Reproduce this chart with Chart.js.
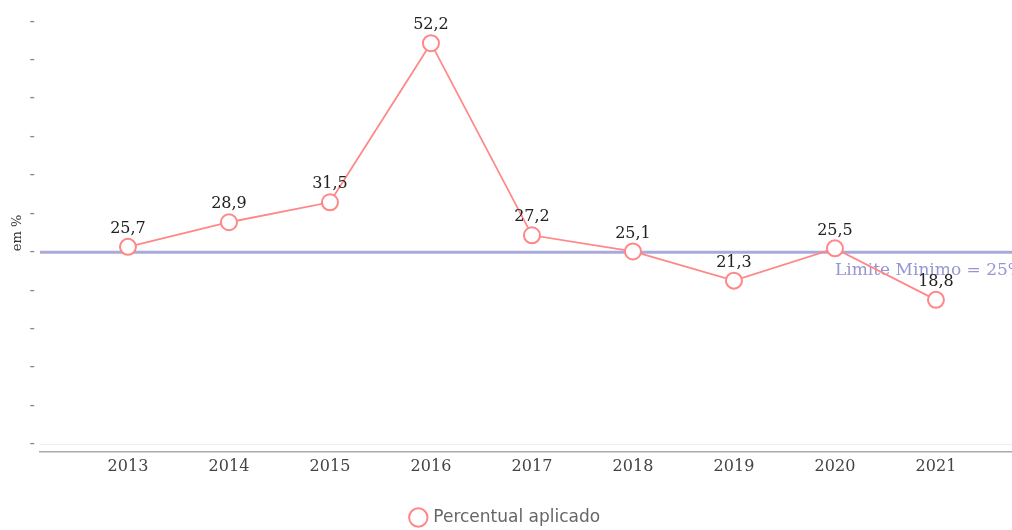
<!DOCTYPE html>
<html>
<head>
<meta charset="utf-8">
<script src="https://cdn.jsdelivr.net/npm/chart.js@4"></script>
<style>
  body { margin: 0; background: #fff; }
</style>
</head>
<body>
<canvas id="grafico" width="1012" height="530"></canvas>
<script>
// Dados
const anos = [2013, 2014, 2015, 2016, 2017, 2018, 2019, 2020, 2021];
const percentual = [25.7, 28.9, 31.5, 52.2, 27.2, 25.1, 21.3, 25.5, 18.8];
const ticksY = [0, 5, 10, 15, 20, 25, 30, 35, 40, 45, 50, 55];
const limiteMinimo = 25;
const textoLimite = "Limite Minimo = 25%";

// Rótulos dos pontos + linha do limite mínimo
const extras = {
  id: "extras",
  beforeDatasetsDraw(chart) {
    const { ctx, chartArea, scales } = chart;
    const y = scales.y.getPixelForValue(limiteMinimo);
    ctx.save();
    ctx.strokeStyle = "rgba(160,160,215,0.9)";
    ctx.lineWidth = 3;
    ctx.beginPath();
    ctx.moveTo(chartArea.left, y);
    ctx.lineTo(chartArea.right, y);
    ctx.stroke();
    ctx.fillStyle = "rgb(150,150,210)";
    ctx.font = "17px 'DejaVu Serif'";
    ctx.textAlign = "left";
    ctx.textBaseline = "middle";
    ctx.fillText(textoLimite, chartArea.right - 177, y + 18);
    ctx.restore();
  },
  afterDatasetsDraw(chart) {
    const { ctx } = chart;
    const meta = chart.getDatasetMeta(0);
    ctx.save();
    ctx.fillStyle = "#222";
    ctx.font = "16px 'DejaVu Serif'";
    ctx.textAlign = "center";
    ctx.textBaseline = "middle";
    meta.data.forEach((p, i) => {
      ctx.fillText(percentual[i].toFixed(1).replace(".", ","), p.x, p.y - 18);
    });
    ctx.restore();
  },
};

new Chart(document.getElementById("grafico"), {
  type: "line",
  data: {
    datasets: [
      {
        label: "Percentual aplicado",
        data: anos.map((a, i) => ({ x: a, y: percentual[i] })),
        borderColor: "rgb(255,135,135)",
        backgroundColor: "#fff",
        borderWidth: 1.8,
        pointRadius: 8,
        pointHoverRadius: 8,
        pointBorderWidth: 2,
        pointBackgroundColor: "#fff",
        pointBorderColor: "rgb(255,135,135)",
        tension: 0,
      },
    ],
  },
  options: {
    responsive: false,
    animation: false,
    layout: { autoPadding: false, padding: { top: 4, right: 0, bottom: -6, left: 0 } },
    plugins: {
      tooltip: { enabled: false },
      legend: {
        position: "bottom",
        labels: {
          usePointStyle: true,
          pointStyle: "circle",
          boxWidth: 13,
          boxHeight: 13,
          padding: 2,
          color: "#666",
          font: { family: "'DejaVu Sans'", size: 17 },
        },
      },
    },
    scales: {
      x: {
        type: "linear",
        min: 2012.129,
        max: 2021.753,
        afterBuildTicks: (s) => { s.ticks = anos.map((v) => ({ value: v })); },
        afterFit: (s) => { s.height = 55; },
        ticks: {
          color: "#444",
          font: { family: "'DejaVu Serif'", size: 16 },
          padding: 5,
          callback: (v) => String(v),
        },
        grid: { display: false, drawTicks: false },
        border: { color: "#aaa", width: 1.5 },
      },
      y: {
        min: -1,
        max: 56,
        afterBuildTicks: (s) => { s.ticks = ticksY.map((v) => ({ value: v })); },
        afterFit: (s) => { s.width = 40; },
        ticks: {
          color: "#888",
          font: { family: "'DejaVu Sans'", size: 15 },
          padding: 5,
          callback: () => "-",
        },
        grid: {
          drawTicks: false,
          color: (c) => (c.tick && c.tick.value === 0 ? "#eee" : "rgba(0,0,0,0)"),
        },
        border: { display: false },
        title: {
          display: true,
          text: "em %",
          color: "#333",
          font: { family: "'DejaVu Serif'", size: 13 },
          padding: { top: 10, bottom: 0 },
        },
      },
    },
  },
  plugins: [extras],
});
</script>
</body>
</html>
